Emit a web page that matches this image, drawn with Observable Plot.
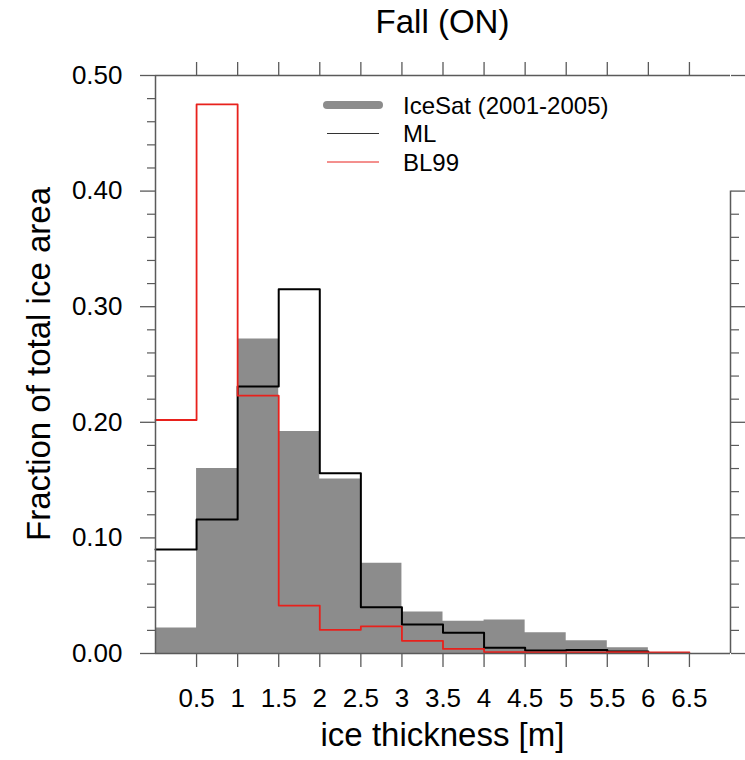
<!DOCTYPE html>
<html><head><meta charset="utf-8">
<script src="https://cdn.jsdelivr.net/npm/d3@7"></script>
<script src="https://cdn.jsdelivr.net/npm/@observablehq/plot@0.6"></script>
<style>body{margin:0;background:#fff}</style>
</head><body><div id="chart"></div>
<script>
const titleText = "Fall (ON)";
const xLabelText = "ice thickness [m]";
const yLabelText = "Fraction of total ice area";
const binEdges = [0, 0.5, 1, 1.5, 2, 2.5, 3, 3.5, 4, 4.5, 5, 5.5, 6, 6.5, 7];
const iceSat = [0.022, 0.160, 0.272, 0.192, 0.151, 0.078, 0.036, 0.028, 0.029, 0.018, 0.011, 0.005];
const ml = [0.090, 0.116, 0.231, 0.315, 0.156, 0.040, 0.025, 0.018, 0.005, 0.0025, 0.003, 0.0017];
const bl99 = [0.202, 0.475, 0.223, 0.0415, 0.0205, 0.0234, 0.011, 0.004, 0.0012, 0.001, 0.001, 0.0012, 0.001];
const xTicks = [0.5, 1, 1.5, 2, 2.5, 3, 3.5, 4, 4.5, 5, 5.5, 6, 6.5];
const xTickLabels = ["0.5", "1", "1.5", "2", "2.5", "3", "3.5", "4", "4.5", "5", "5.5", "6", "6.5"];
const yMajor = [0, 0.1, 0.2, 0.3, 0.4, 0.5];
const yTickLabels = ["0.00", "0.10", "0.20", "0.30", "0.40", "0.50"];
const yMinor = [0.02,0.04,0.06,0.08,0.12,0.14,0.16,0.18,0.22,0.24,0.26,0.28,0.32,0.34,0.36,0.38,0.42,0.44,0.46,0.48];
const yRightMajor = [0, 0.1, 0.2, 0.3, 0.4, 0.5];
const yRightMinor = [0.02,0.04,0.06,0.08,0.12,0.14,0.16,0.18,0.22,0.24,0.26,0.28,0.32,0.34,0.36,0.38];
const legendLabels = ["IceSat (2001-2005)", "ML", "BL99"];
const legendColors = ["#8c8c8c", "#333333", "#e8211c"];
const legendWidths = [8, 1, 1];

const FONT = "'Liberation Sans', Arial, Helvetica, sans-serif";
const AX = "#5a5a5a";

function steps(vals) {
  const pts = vals.map((v, i) => ({x: binEdges[i], y: v}));
  pts.push({x: binEdges[vals.length], y: vals[vals.length - 1]});
  return pts;
}

function decorations(index, scales, values, dims) {
  const g = d3.create("svg:g").attr("font-family", FONT).attr("fill", "black");
  const cx = (dims.marginLeft + dims.width - dims.marginRight) / 2;
  const cy = (dims.marginTop + dims.height - dims.marginBottom) / 2;
  g.append("text").attr("x", cx).attr("y", 33).attr("text-anchor", "middle")
    .attr("font-size", 33).text(titleText);
  g.append("text").attr("x", cx).attr("y", 746).attr("text-anchor", "middle")
    .attr("font-size", 33).text(xLabelText);
  g.append("text").attr("transform", `translate(50,${cy}) rotate(-90)`)
    .attr("text-anchor", "middle").attr("font-size", 33).text(yLabelText);
  // legend
  const lx0 = dims.marginLeft + 172, lx1 = dims.marginLeft + 224, tx = dims.marginLeft + 248;
  legendLabels.forEach((lab, i) => {
    const yy = dims.marginTop + 30 + i * 28.5;
    g.append("line").attr("x1", lx0).attr("x2", lx1).attr("y1", yy).attr("y2", yy)
      .attr("stroke", legendColors[i]).attr("stroke-width", legendWidths[i])
      .attr("stroke-linecap", i === 0 ? "round" : "butt");
    g.append("text").attr("x", tx).attr("y", yy).attr("dy", "0.36em")
      .attr("text-anchor", "start").attr("font-size", 24).text(lab);
  });
  return g.node();
}

const chart = Plot.plot({
  width: 745,
  height: 760,
  marginLeft: 155,
  marginRight: 15,
  marginTop: 75,
  marginBottom: 107,
  style: {fontFamily: FONT, background: "white", overflow: "visible"},
  x: {domain: [0, 7]},
  y: {domain: [0, 0.5]},
  marks: [
    Plot.areaY(steps(iceSat), {x: "x", y: "y", curve: "step-after", fill: "#8c8c8c"}),
    Plot.line(steps(ml), {x: "x", y: "y", curve: "step-after", stroke: "#000", strokeWidth: 2}),
    Plot.line(steps(bl99), {x: "x", y: "y", curve: "step-after", stroke: "#e8211c", strokeWidth: 1.8}),
    Plot.ruleX([0], {y1: 0, y2: 0.5, stroke: AX, strokeWidth: 1.5}),
    Plot.ruleX([7], {y1: 0, y2: 0.4, stroke: AX, strokeWidth: 1.5}),
    Plot.ruleY([0, 0.5], {stroke: AX, strokeWidth: 1.5}),
    Plot.axisY({ticks: yMajor, tickSize: 15, tickPadding: 18, fontSize: 26, label: null,
      tickFormat: d => yTickLabels[yMajor.indexOf(d)], stroke: AX, strokeWidth: 1.3}),
    Plot.axisY({ticks: yMinor, tickSize: 8, tickFormat: () => "", label: null, stroke: AX, strokeWidth: 1.2}),
    Plot.axisY({anchor: "right", ticks: yRightMajor, tickSize: 15, tickFormat: () => "", label: null, stroke: AX, strokeWidth: 1.3}),
    Plot.axisY({anchor: "right", ticks: yRightMinor, tickSize: 8, tickFormat: () => "", label: null, stroke: AX, strokeWidth: 1.2}),
    Plot.axisX({anchor: "top", ticks: xTicks, tickSize: 14, tickFormat: () => "", label: null, stroke: AX, strokeWidth: 1.3}),
    Plot.axisX({anchor: "bottom", ticks: xTicks, tickSize: 14, tickPadding: 21, fontSize: 26, label: null,
      tickFormat: d => xTickLabels[xTicks.indexOf(d)], stroke: AX, strokeWidth: 1.3}),
    decorations
  ]
});
document.getElementById("chart").appendChild(chart);
</script>
</body></html>
